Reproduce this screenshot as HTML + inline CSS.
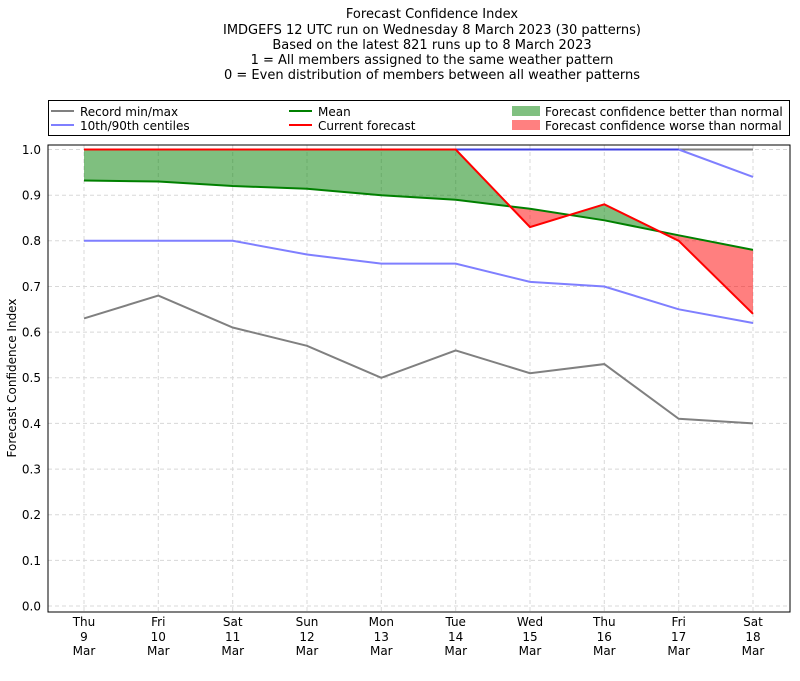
<!DOCTYPE html>
<html><head><meta charset="utf-8"><style>body{margin:0;background:#fff}</style></head><body>
<svg width="800" height="676" xmlns="http://www.w3.org/2000/svg" font-family="DejaVu Sans, Liberation Sans, sans-serif">
<rect width="800" height="676" fill="#fff"/>
<g font-size="13" text-anchor="middle" fill="#000">
<text x="432" y="18">Forecast Confidence Index</text>
<text x="432" y="34">IMDGEFS 12 UTC run on Wednesday 8 March 2023 (30 patterns)</text>
<text x="432" y="49">Based on the latest 821 runs up to 8 March 2023</text>
<text x="432" y="64">1 = All members assigned to the same weather pattern</text>
<text x="432" y="79">0 = Even distribution of members between all weather patterns</text>
</g>
<rect x="48.5" y="100.5" width="741" height="35" fill="#fff" stroke="#000"/>
<g font-size="12">
<line x1="51" y1="111" x2="74" y2="111" stroke="#808080" stroke-width="2"/><text x="80" y="116">Record min/max</text>
<line x1="51" y1="125" x2="74" y2="125" stroke="#7f7fff" stroke-width="2"/><text x="80" y="130">10th/90th centiles</text>
<line x1="289" y1="111" x2="312" y2="111" stroke="#008000" stroke-width="2"/><text x="318" y="116">Mean</text>
<line x1="289" y1="125" x2="312" y2="125" stroke="#ff0000" stroke-width="2"/><text x="318" y="130">Current forecast</text>
<rect x="512" y="106" width="28" height="10" fill="#80c080"/><text x="545" y="116">Forecast confidence better than normal</text>
<rect x="512" y="120" width="28" height="10" fill="#ff8080"/><text x="545" y="130">Forecast confidence worse than normal</text>
</g>
<g stroke="#d8d8d8" stroke-dasharray="4,3" stroke-width="1">
<line x1="48" x2="790" y1="149.5" y2="149.5"/><line x1="48" x2="790" y1="195.2" y2="195.2"/><line x1="48" x2="790" y1="240.8" y2="240.8"/><line x1="48" x2="790" y1="286.5" y2="286.5"/><line x1="48" x2="790" y1="332.1" y2="332.1"/><line x1="48" x2="790" y1="377.8" y2="377.8"/><line x1="48" x2="790" y1="423.4" y2="423.4"/><line x1="48" x2="790" y1="469.1" y2="469.1"/><line x1="48" x2="790" y1="514.7" y2="514.7"/><line x1="48" x2="790" y1="560.4" y2="560.4"/><line x1="48" x2="790" y1="606" y2="606"/>
<line y1="145" y2="612" x1="84" x2="84"/><line y1="145" y2="612" x1="158.3" x2="158.3"/><line y1="145" y2="612" x1="232.7" x2="232.7"/><line y1="145" y2="612" x1="307" x2="307"/><line y1="145" y2="612" x1="381.3" x2="381.3"/><line y1="145" y2="612" x1="455.7" x2="455.7"/><line y1="145" y2="612" x1="530" x2="530"/><line y1="145" y2="612" x1="604.3" x2="604.3"/><line y1="145" y2="612" x1="678.7" x2="678.7"/><line y1="145" y2="612" x1="753" x2="753"/>
</g>
<polygon fill="#008000" fill-opacity="0.5" points="84,149.5 455.7,149.5 510.2,206.4 455.7,199.7 381.3,195.2 307,188.8 232.7,186 158.3,181.5 84,180.5"/>
<polygon fill="#ff0000" fill-opacity="0.5" points="510.2,206.4 530,227.1 569.6,214.9 530,208.8"/>
<polygon fill="#008000" fill-opacity="0.5" points="569.6,214.9 604.3,204.3 659.7,231.5 604.3,220.3"/>
<polygon fill="#ff0000" fill-opacity="0.5" points="659.7,231.5 678.7,240.8 753,313.8 753,249.9 678.7,235.3"/>
<g fill="none" stroke-width="2">
<polyline stroke="#808080" points="84,149.5 753,149.5"/>
<polyline stroke="#808080" points="84,318.4 158.3,295.6 232.7,327.5 307,345.8 381.3,377.8 455.7,350.4 530,373.2 604.3,364.1 678.7,418.8 753,423.4"/>
<polyline stroke="#7f7fff" points="84,240.8 158.3,240.8 232.7,240.8 307,254.5 381.3,263.6 455.7,263.6 530,281.9 604.3,286.5 678.7,309.3 753,323"/>
<polyline stroke="#4040e0" points="84,149.5 678.7,149.5"/>
<polyline stroke="#7f7fff" points="678.7,149.5 753,176.9"/>
<polyline stroke="#008000" points="84,180.5 158.3,181.5 232.7,186 307,188.8 381.3,195.2 455.7,199.7 530,208.8 604.3,220.3 678.7,235.3 753,249.9"/>
<polyline stroke="#ff0000" points="84,149.5 455.7,149.5 530,227.1 604.3,204.3 678.7,240.8 753,313.8"/>
</g>
<rect x="48" y="145" width="742" height="467" fill="none" stroke="#000" stroke-width="1"/>
<g font-size="12" text-anchor="end">
<text x="41" y="154">1.0</text><text x="41" y="199.5">0.9</text><text x="41" y="245">0.8</text><text x="41" y="291">0.7</text><text x="41" y="336.5">0.6</text><text x="41" y="382">0.5</text><text x="41" y="428">0.4</text><text x="41" y="473.5">0.3</text><text x="41" y="519">0.2</text><text x="41" y="565">0.1</text><text x="41" y="610.5">0.0</text>
</g>
<g font-size="12" text-anchor="middle">
<text x="84" y="626">Thu</text><text x="84" y="641">9</text><text x="84" y="655">Mar</text>
<text x="158.3" y="626">Fri</text><text x="158.3" y="641">10</text><text x="158.3" y="655">Mar</text>
<text x="232.7" y="626">Sat</text><text x="232.7" y="641">11</text><text x="232.7" y="655">Mar</text>
<text x="307" y="626">Sun</text><text x="307" y="641">12</text><text x="307" y="655">Mar</text>
<text x="381.3" y="626">Mon</text><text x="381.3" y="641">13</text><text x="381.3" y="655">Mar</text>
<text x="455.7" y="626">Tue</text><text x="455.7" y="641">14</text><text x="455.7" y="655">Mar</text>
<text x="530" y="626">Wed</text><text x="530" y="641">15</text><text x="530" y="655">Mar</text>
<text x="604.3" y="626">Thu</text><text x="604.3" y="641">16</text><text x="604.3" y="655">Mar</text>
<text x="678.7" y="626">Fri</text><text x="678.7" y="641">17</text><text x="678.7" y="655">Mar</text>
<text x="753" y="626">Sat</text><text x="753" y="641">18</text><text x="753" y="655">Mar</text>
<text transform="translate(16,378) rotate(-90)">Forecast Confidence Index</text>
</g>
</svg>
</body></html>
